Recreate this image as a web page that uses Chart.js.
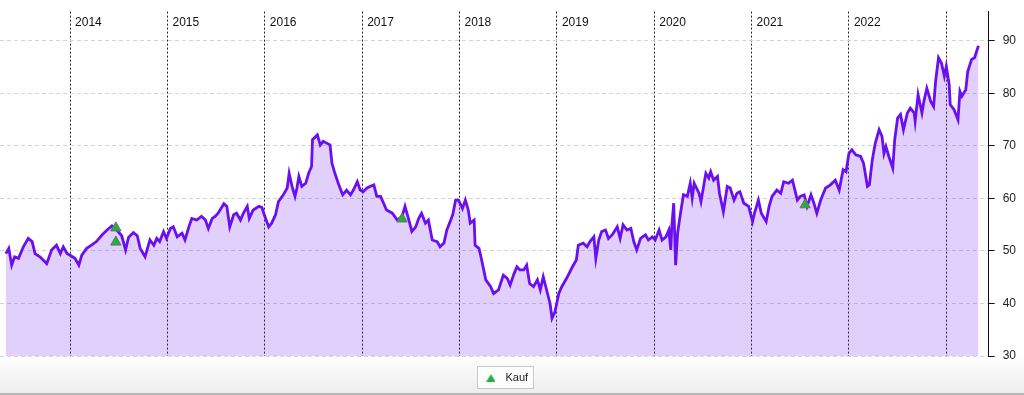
<!DOCTYPE html>
<html>
<head>
<meta charset="utf-8">
<script src="https://cdn.jsdelivr.net/npm/chart.js@4"></script>
<style>
html, body { margin:0; padding:0; background:#fff; }
#chart { display:block; }
</style>
</head>
<body>
<canvas id="chart" width="1024" height="395"></canvas>
<script>
// Kursverlauf (Datum als Dezimaljahr)
var datum = [
	2013.34,2013.37,2013.40,2013.43,2013.47,2013.52,2013.57,2013.61,2013.64,2013.69,
	2013.76,2013.81,2013.86,2013.90,2013.93,2013.97,2014.00,2014.05,2014.09,2014.12,
	2014.17,2014.22,2014.27,2014.33,2014.38,2014.43,2014.48,2014.53,2014.57,2014.60,
	2014.65,2014.69,2014.72,2014.77,2014.82,2014.86,2014.89,2014.92,2014.96,2014.99,
	2015.03,2015.06,2015.10,2015.15,2015.18,2015.22,2015.25,2015.30,2015.35,2015.39,
	2015.42,2015.46,2015.49,2015.52,2015.58,2015.61,2015.64,2015.68,2015.71,2015.75,
	2015.78,2015.82,2015.84,2015.88,2015.94,2015.97,2016.00,2016.04,2016.07,2016.11,
	2016.14,2016.19,2016.23,2016.25,2016.28,2016.31,2016.33,2016.35,2016.38,2016.42,
	2016.45,2016.48,2016.49,2016.54,2016.57,2016.60,2016.64,2016.67,2016.69,2016.72,
	2016.76,2016.80,2016.84,2016.88,2016.91,2016.95,2016.98,2017.01,2017.05,2017.08,
	2017.12,2017.15,2017.19,2017.22,2017.25,2017.31,2017.36,2017.41,2017.44,2017.48,
	2017.51,2017.55,2017.58,2017.61,2017.65,2017.68,2017.72,2017.77,2017.80,2017.84,
	2017.87,2017.91,2017.93,2017.96,2017.99,2018.03,2018.06,2018.09,2018.11,2018.15,
	2018.16,2018.20,2018.22,2018.27,2018.32,2018.35,2018.40,2018.45,2018.49,2018.52,
	2018.56,2018.59,2018.62,2018.66,2018.69,2018.72,2018.76,2018.80,2018.83,2018.86,
	2018.89,2018.93,2018.95,2018.98,2019.02,2019.05,2019.10,2019.16,2019.20,2019.22,
	2019.27,2019.31,2019.34,2019.38,2019.40,2019.43,2019.46,2019.50,2019.53,2019.57,
	2019.62,2019.65,2019.68,2019.72,2019.76,2019.79,2019.82,2019.86,2019.91,2019.94,
	2019.98,2020.01,2020.05,2020.08,2020.12,2020.15,2020.17,2020.18,2020.20,2020.22,
	2020.24,2020.27,2020.30,2020.34,2020.37,2020.39,2020.41,2020.46,2020.48,2020.53,
	2020.56,2020.58,2020.61,2020.65,2020.67,2020.71,2020.75,2020.78,2020.82,2020.85,
	2020.88,2020.92,2020.97,2021.01,2021.03,2021.07,2021.10,2021.15,2021.18,2021.21,
	2021.26,2021.30,2021.33,2021.38,2021.42,2021.47,2021.50,2021.54,2021.57,2021.61,
	2021.64,2021.67,2021.71,2021.76,2021.81,2021.86,2021.90,2021.94,2021.97,2022.00,
	2022.03,2022.07,2022.12,2022.15,2022.19,2022.21,2022.24,2022.27,2022.31,2022.34,
	2022.36,2022.38,2022.41,2022.45,2022.47,2022.50,2022.53,2022.56,2022.60,2022.63,
	2022.67,2022.68,2022.71,2022.75,2022.77,2022.80,2022.84,2022.87,2022.89,2022.92,
	2022.95,2022.98,2023.00,2023.03,2023.04,2023.08,2023.12,2023.14,2023.16,2023.20,
	2023.22,2023.26,2023.29,2023.33
];
var kurs = [
	49.5,50.5,47.3,48.9,48.6,50.8,52.4,51.8,49.5,48.9,
	47.6,50.2,51.1,49.5,50.8,49.5,49.2,48.6,47.3,49.2,
	50.5,51.1,51.8,53.1,54.0,54.8,54.0,52.9,50.2,52.6,
	53.5,52.9,50.5,48.9,52.1,51.1,52.4,51.8,53.7,52.4,
	54.3,54.6,52.7,53.4,52.1,54.6,56.2,55.9,56.6,55.9,
	54.3,56.2,56.6,57.2,59.0,58.5,54.6,56.9,57.2,55.9,
	57.2,58.5,56.2,57.8,58.5,58.3,56.6,54.6,55.3,56.9,
	59.4,60.7,62.0,64.8,62.3,60.4,62.0,64.2,62.3,62.9,
	64.8,66.1,71.2,72.1,70.2,70.9,70.5,70.2,66.7,64.8,
	62.6,60.7,61.6,60.7,61.6,63.2,61.6,61.3,62.0,62.3,
	62.6,60.4,60.4,59.1,57.8,57.2,55.9,56.6,58.5,55.9,
	53.7,54.6,56.2,57.2,55.3,55.9,52.1,51.8,50.8,51.5,
	54.0,55.9,56.9,59.7,59.7,58.1,59.7,57.8,55.3,55.9,
	51.1,50.5,48.9,44.5,43.2,41.9,42.6,45.4,44.8,43.5,
	45.7,47.0,46.4,46.4,47.3,43.8,43.2,44.5,42.6,45.1,
	42.9,40.0,37.2,38.4,41.9,43.2,44.8,47.0,48.3,51.1,
	51.5,50.8,51.8,52.7,48.6,52.1,53.7,54.0,52.4,53.1,
	54.6,52.4,55.0,54.0,54.3,51.8,50.2,52.4,53.1,52.1,
	52.7,52.1,54.0,52.1,52.7,54.0,50.2,54.6,59.1,47.3,
	53.4,57.2,60.7,60.4,62.9,60.1,62.9,61.0,59.4,64.8,
	63.9,65.1,63.5,64.2,61.0,57.5,62.3,62.0,59.7,61.0,
	61.3,59.1,58.5,55.6,57.2,59.7,57.2,55.6,58.5,60.4,
	61.6,61.0,63.2,62.9,63.5,59.7,60.4,60.7,58.5,60.7,
	59.1,57.2,59.7,62.0,62.6,63.5,61.6,65.5,65.1,68.6,
	69.3,68.3,68.0,66.7,62.3,62.6,67.4,70.5,73.1,71.8,
	68.6,69.9,68.0,65.8,71.2,75.3,76.0,73.1,76.3,77.2,
	76.3,74.7,79.8,76.3,78.5,81.0,78.5,77.5,82.3,86.8,
	85.8,83.3,85.2,81.7,77.9,76.9,75.0,80.4,79.5,80.7,
	84.2,86.5,86.8,89.1
];

// Käufe
var kaufDatum = [2014.47, 2014.47, 2017.41, 2021.55];
var kaufKurs = [54.4, 51.7, 56.1, 58.8];

// Jahreslinien und Beschriftungen
var jahre = [2014, 2015, 2016, 2017, 2018, 2019, 2020, 2021, 2022, 2023];
var jahrLabels = ['2014', '2015', '2016', '2017', '2018', '2019', '2020', '2021', '2022'];
var yTicks = [30, 40, 50, 60, 70, 80, 90];

var kursPunkte = [];
for (var i = 0; i < datum.length; i++) {
	kursPunkte.push({ x: datum[i], y: kurs[i] });
}
var kaufPunkte = [];
for (var k = 0; k < kaufDatum.length; k++) {
	kaufPunkte.push({ x: kaufDatum[k], y: kaufKurs[k] });
}

// kleines Dreieck fuer die Legende
var legendDreieck = document.createElement('canvas');
legendDreieck.width = 9;
legendDreieck.height = 8;
(function () {
	var c = legendDreieck.getContext('2d');
	c.fillStyle = '#1fb13c';
	c.beginPath();
	c.moveTo(4.5, 0.5);
	c.lineTo(9, 8);
	c.lineTo(0, 8);
	c.closePath();
	c.fill();
})();

Chart.defaults.font.family = "'Liberation Sans', Arial, sans-serif";
Chart.defaults.font.size = 12;
Chart.defaults.color = '#222';

// Hintergrund unten + Rahmen um die Legende
var hintergrund = {
	id: 'hintergrund',
	afterLayout: function (chart) {
		// Legende etwas nach links, wie im Original
		if (chart.legend) chart.legend.left -= 14;
	},
	beforeDraw: function (chart) {
		var ctx = chart.ctx, area = chart.chartArea;
		ctx.save();
		ctx.fillStyle = '#fff';
		ctx.fillRect(0, 0, chart.width, chart.height);
		var g = ctx.createLinearGradient(0, area.bottom, 0, chart.height);
		g.addColorStop(0, '#ffffff');
		g.addColorStop(1, '#ececec');
		ctx.fillStyle = g;
		ctx.fillRect(0, area.bottom + 1, chart.width, chart.height - area.bottom - 1);
		ctx.fillStyle = '#b8b8b8';
		ctx.fillRect(0, chart.height - 2, chart.width, 2);

		var lg = chart.legend;
		if (lg && lg.legendHitBoxes && lg.legendHitBoxes.length) {
			var hb = lg.legendHitBoxes[0];
			var bx = Math.round(hb.left) - 4.5, by = Math.round(hb.top) - 5.5;
			var bw = Math.round(hb.width) + 10, bh = Math.round(hb.height) + 11;
			ctx.fillStyle = '#fdfdfd';
			ctx.fillRect(bx, by, bw, bh);
			ctx.strokeStyle = '#c8c8c8';
			ctx.lineWidth = 1;
			ctx.strokeRect(bx, by, bw, bh);
		}
		ctx.restore();
	}
};

// Jahreszahlen oben rechts neben den Linien
var jahrText = {
	id: 'jahrText',
	afterDatasetsDraw: function (chart) {
		var ctx = chart.ctx, xs = chart.scales.x, top = chart.chartArea.top;
		ctx.save();
		ctx.font = "12px 'Liberation Sans', Arial, sans-serif";
		ctx.fillStyle = '#111';
		ctx.textAlign = 'left';
		ctx.textBaseline = 'middle';
		for (var j = 0; j < jahrLabels.length; j++) {
			var px = xs.getPixelForValue(parseInt(jahrLabels[j], 10));
			ctx.fillText(jahrLabels[j], px + 5, top + 11.5);
		}
		ctx.restore();
	}
};

var ctx = document.getElementById('chart').getContext('2d');
var chart = new Chart(ctx, {
	type: 'line',
	data: {
		datasets: [
			{
				type: 'scatter',
				label: 'Kauf',
				data: kaufPunkte,
				showLine: false,
				pointStyle: 'triangle',
				pointRadius: 6,
				backgroundColor: '#1fb13c',
				borderColor: '#6f6f6f',
				borderWidth: 1,
				order: 0
			},
			{
				label: 'Kurs',
				data: kursPunkte,
				borderColor: '#6a0ff0',
				backgroundColor: 'rgba(120, 40, 235, 0.22)',
				borderWidth: 2.8,
				pointRadius: 0,
				tension: 0,
				fill: 'start',
				order: 1
			}
		]
	},
	options: {
		responsive: false,
		animation: false,
		devicePixelRatio: 1,
		layout: { autoPadding: false, padding: { top: 5, right: 0, bottom: 2, left: 0 } },
		scales: {
			x: {
				type: 'linear',
				min: 2013.28,
				max: 2023.435,
				afterBuildTicks: function (scale) {
					scale.ticks = jahre.map(function (v) { return { value: v }; });
				},
				ticks: { display: false },
				grid: { color: '#222', lineWidth: 1, drawTicks: false },
				border: { display: false, dash: [2, 2] }
			},
			y: {
				position: 'right',
				min: 30,
				max: 95.6,
				afterBuildTicks: function (scale) {
					scale.ticks = yTicks.map(function (v) { return { value: v }; });
				},
				ticks: { padding: 8, color: '#222', font: { size: 12, lineHeight: 0.6 } },
				grid: {
					color: '#d4d4d4',
					tickColor: '#111',
					tickLength: 6,
					tickBorderDash: [],
					drawTicks: true
				},
				border: { display: true, color: '#111', width: 1, dash: [4, 3] }
			}
		},
		plugins: {
			tooltip: { enabled: false },
			legend: {
				position: 'bottom',
				labels: {
					usePointStyle: true,
					pointStyleWidth: 18,
					boxHeight: 8,
					padding: 16,
					color: '#222',
					font: { size: 11 },
					filter: function (item) { return item.text === 'Kauf'; },
					generateLabels: function (ch) {
						var items = Chart.defaults.plugins.legend.labels.generateLabels(ch);
						items.forEach(function (it) {
							it.lineWidth = 0;
							it.strokeStyle = 'rgba(0,0,0,0)';
							it.pointStyle = legendDreieck;
						});
						return items;
					}
				}
			}
		}
	},
	plugins: [hintergrund, jahrText]
});
</script>
</body>
</html>
